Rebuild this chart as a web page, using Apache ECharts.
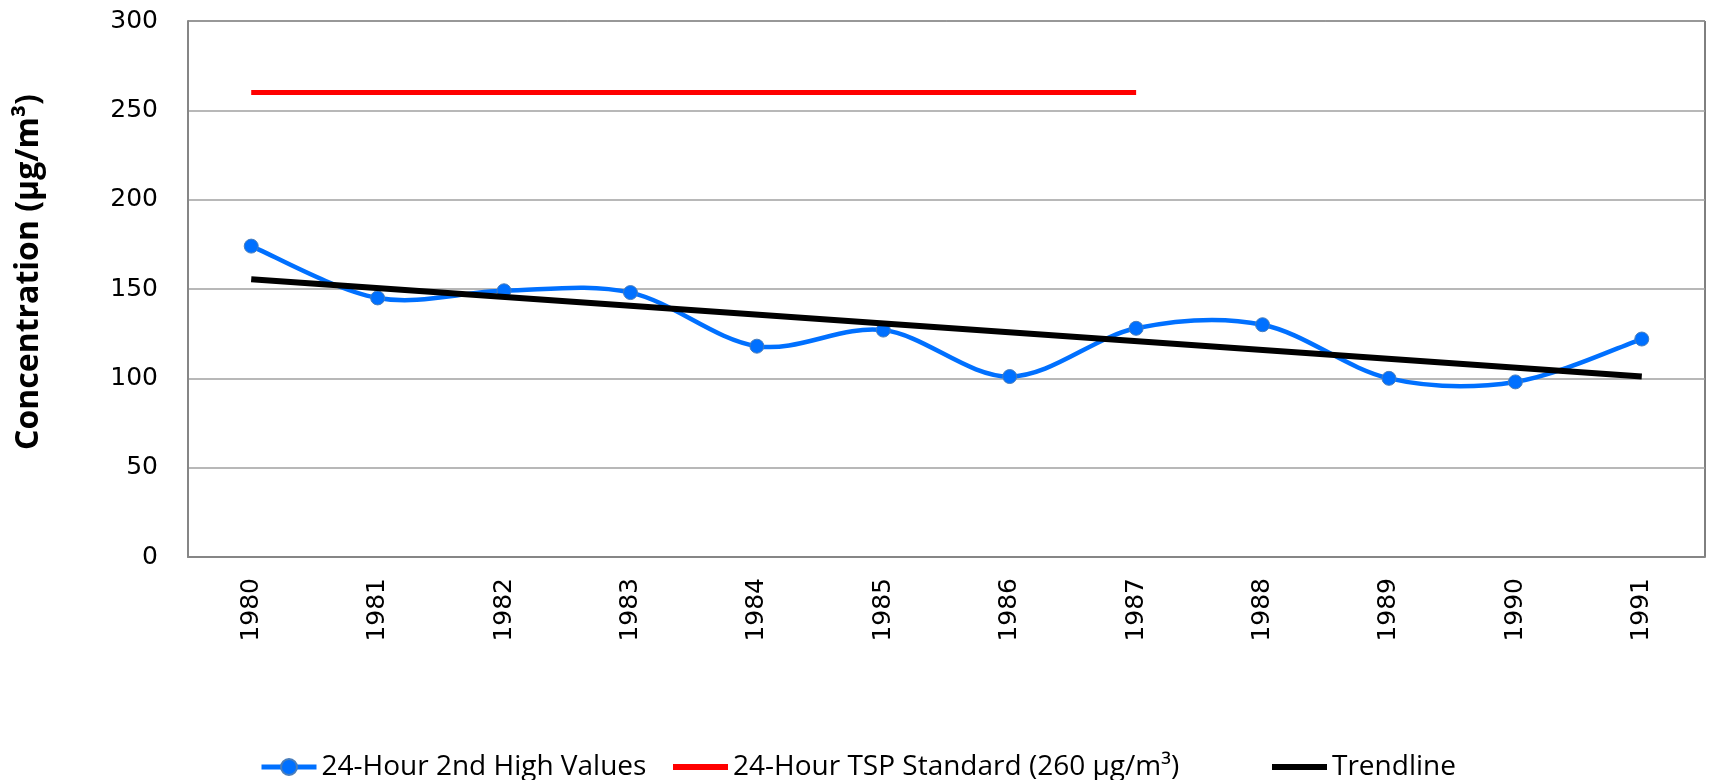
<!DOCTYPE html>
<html>
<head>
<meta charset="utf-8">
<title>TSP 24-Hour 2nd High Values</title>
<style>
  html, body { margin: 0; padding: 0; background: #fff; }
  #chart { width: 1711px; height: 780px; }
</style>
</head>
<body>
<div id="chart"></div>
<script src="https://cdn.jsdelivr.net/npm/echarts@6/dist/echarts.min.js"></script>
<script>
// data
var years = ['1980', '1981', '1982', '1983', '1984', '1985', '1986', '1987', '1988', '1989', '1990', '1991'];
var highValues = [174, 145, 149, 148, 118, 127, 101, 128, 130, 100, 98, 122];
var standardValues = [260, 260, 260, 260, 260, 260, 260, 260];
var trendStart = 155.5;
var trendEnd = 101;
var yTicks = { min: 0, max: 300, interval: 50 };

var trendData = [[years[0], trendStart], [years[years.length - 1], trendEnd]];
var curveData = highValues.map(function (v, i) { return [i, v]; });

var chart = echarts.init(document.getElementById('chart'));

var legendText = { fontFamily: 'Open Sans', fontSize: 28, color: '#000' };

// Excel style smoothed segment (catmull-rom as a cubic bezier) from point i to i+1
function renderSmoothSegment(params, api) {
  var i = params.dataIndexInside;
  var n = params.dataInsideLength;
  if (i >= n - 1) return;
  var pt = function (k) {
    k = Math.max(0, Math.min(n - 1, k));
    return api.coord([api.value(0, k), api.value(1, k)]);
  };
  var p0 = pt(i - 1), p1 = pt(i), p2 = pt(i + 1), p3 = pt(i + 2);
  return {
    type: 'bezierCurve',
    shape: {
      x1: p1[0], y1: p1[1],
      x2: p2[0], y2: p2[1],
      cpx1: p1[0] + (p2[0] - p0[0]) / 6, cpy1: p1[1] + (p2[1] - p0[1]) / 6,
      cpx2: p2[0] - (p3[0] - p1[0]) / 6, cpy2: p2[1] - (p3[1] - p1[1]) / 6
    },
    style: { stroke: '#0070ff', lineWidth: 4.5, fill: null }
  };
}

chart.setOption({
  animation: false,
  grid: {
    left: 188, right: 6, top: 21, bottom: 223,
    show: true, borderColor: '#000', borderWidth: 1
  },
  legend: [
    {
      data: ['24-Hour 2nd High Values'], left: 254, top: 748, itemWidth: 55, itemHeight: 20,
      textStyle: legendText, lineStyle: { color: '#0070ff', width: 5, opacity: 1 }
    },
    {
      data: [{ name: '24-Hour TSP Standard (260 µg/m³)', icon: 'rect' }], left: 668, top: 748, itemWidth: 55, itemHeight: 6,
      textStyle: legendText, lineStyle: { width: 6 }
    },
    {
      data: [{ name: 'Trendline', icon: 'rect' }], left: 1267, top: 748, itemWidth: 55, itemHeight: 6,
      textStyle: legendText, lineStyle: { width: 7 }
    }
  ],
  xAxis: {
    type: 'category',
    data: years,
    boundaryGap: true,
    axisLine: { lineStyle: { color: '#868686', width: 2 } },
    axisTick: { alignWithLabel: true, length: 8, lineStyle: { color: '#868686', width: 1 } },
    axisLabel: { rotate: 90, margin: 21, fontFamily: 'DejaVu Sans', fontSize: 25, color: '#000' },
    splitLine: { show: false }
  },
  yAxis: {
    type: 'value',
    min: yTicks.min, max: yTicks.max, interval: yTicks.interval,
    name: 'Concentration (µg/m³)',
    nameLocation: 'middle',
    nameRotate: 90,
    nameGap: 143,
    nameTextStyle: { fontFamily: 'Open Sans', fontWeight: 'bold', fontSize: 32, color: '#000', padding: [0, 0, 0, 34] },
    axisLine: { show: true, lineStyle: { color: '#868686', width: 2 } },
    axisTick: { show: false },
    axisLabel: { margin: 30, fontFamily: 'DejaVu Sans', fontSize: 25, color: '#000' },
    splitLine: { lineStyle: { color: '#a0a0a0', width: 1.5 } }
  },
  series: [
    {
      name: 'smooth curve',
      type: 'custom',
      data: curveData,
      renderItem: renderSmoothSegment,
      silent: true,
      z: 2
    },
    {
      name: '24-Hour 2nd High Values',
      type: 'line',
      data: highValues,
      symbol: 'circle',
      symbolSize: 14,
      lineStyle: { color: '#0070ff', width: 4, opacity: 0 },
      itemStyle: { color: '#0070ff', borderColor: '#4a7ebb', borderWidth: 1 },
      z: 3
    },
    {
      name: '24-Hour TSP Standard (260 µg/m³)',
      type: 'line',
      data: standardValues,
      symbol: 'none',
      lineStyle: { color: '#ff0000', width: 5 },
      itemStyle: { color: '#ff0000' },
      z: 2
    },
    {
      name: 'Trendline',
      type: 'line',
      data: trendData,
      symbol: 'none',
      lineStyle: { color: '#000', width: 6 },
      itemStyle: { color: '#000' },
      z: 4
    }
  ]
});
</script>
</body>
</html>
